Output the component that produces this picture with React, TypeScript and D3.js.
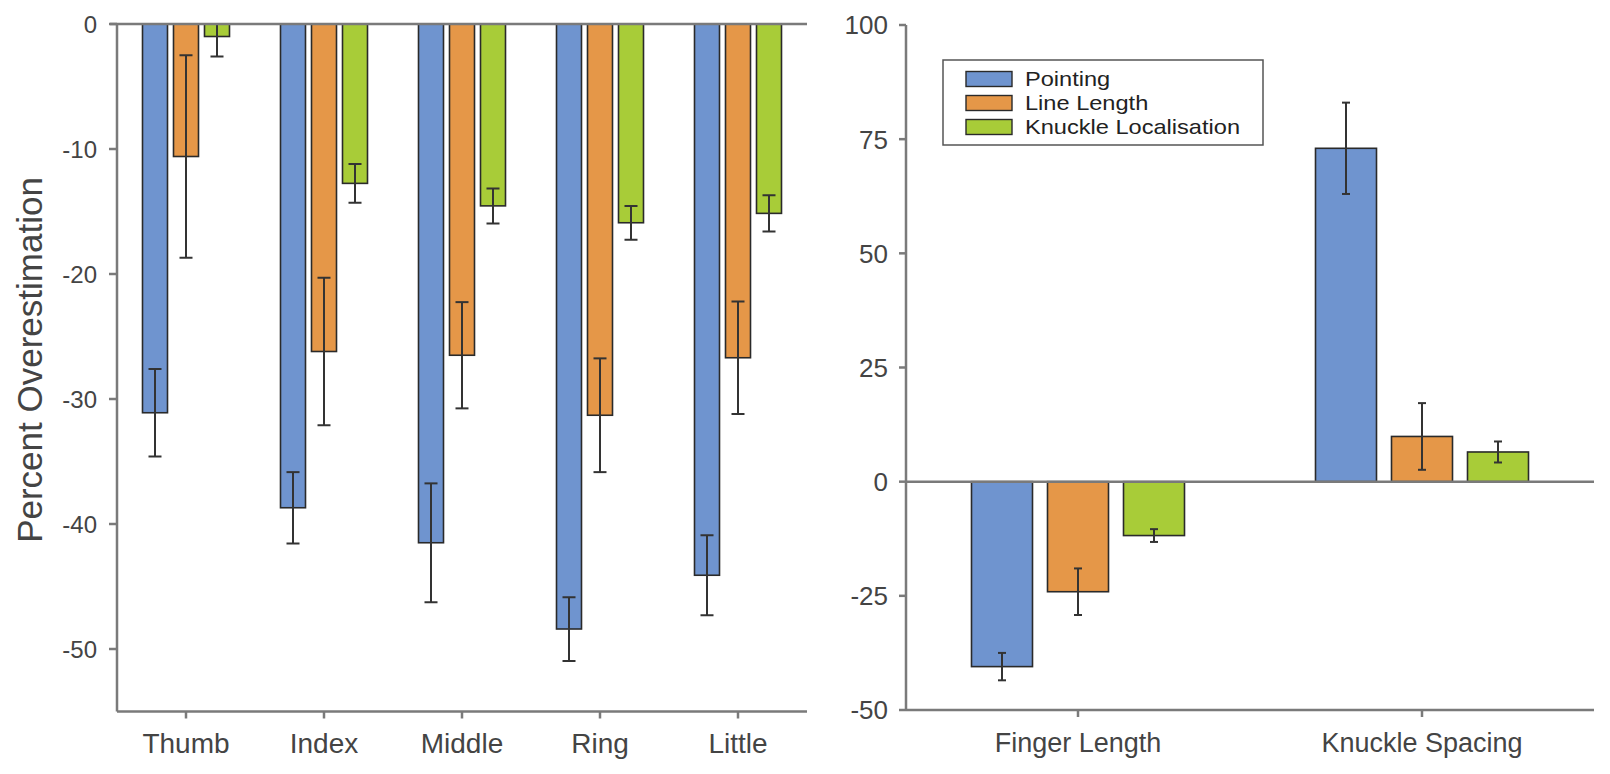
import * as d3 from "d3";

// left panel: per-finger estimates
const fingers = ["Thumb", "Index", "Middle", "Ring", "Little"];
const series = ["Pointing", "Line Length", "Knuckle Localisation"];
const colors = ["#6f94cf", "#e59748", "#a8cc38"];

const pointingFinger = [-31.1, -38.7, -41.5, -48.4, -44.1];
const pointingFingerErr = [3.5, 2.85, 4.75, 2.55, 3.2];
const lineFinger = [-10.6, -26.2, -26.5, -31.3, -26.7];
const lineFingerErr = [8.1, 5.9, 4.25, 4.55, 4.5];
const knuckleFinger = [-1.0, -12.75, -14.55, -15.9, -15.15];
const knuckleFingerErr = [1.6, 1.55, 1.4, 1.35, 1.45];

const leftTicks = [0, -10, -20, -30, -40, -50];

// right panel: summary measures
const measures = ["Finger Length", "Knuckle Spacing"];
const pointingMeasure = [-40.5, 73.0];
const pointingMeasureErr = [3.0, 10.0];
const lineMeasure = [-24.1, 9.9];
const lineMeasureErr = [5.1, 7.3];
const knuckleMeasure = [-11.8, 6.5];
const knuckleMeasureErr = [1.4, 2.3];

const rightTicks = [100, 75, 50, 25, 0, -25, -50];

const FONT = "'Liberation Sans', Arial, Helvetica, sans-serif";
const AXIS = "#7a7a7a";
const TEXT = "#444";

type Bar = { cat: string; s: number; v: number; e: number };

function makeBars(cats: string[], vals: number[][], errs: number[][]): Bar[] {
  const out: Bar[] = [];
  cats.forEach((c, i) => {
    vals.forEach((vs, s) => out.push({ cat: c, s, v: vs[i], e: errs[s][i] }));
  });
  return out;
}

const leftBars = makeBars(
  fingers,
  [pointingFinger, lineFinger, knuckleFinger],
  [pointingFingerErr, lineFingerErr, knuckleFingerErr]
);
const rightBars = makeBars(
  measures,
  [pointingMeasure, lineMeasure, knuckleMeasure],
  [pointingMeasureErr, lineMeasureErr, knuckleMeasureErr]
);

export default function App() {
  // left scales
  const xL = d3.scaleBand<string>().domain(fingers).range([117, 807]);
  const xLi = d3
    .scaleBand<number>()
    .domain([0, 1, 2])
    .range([-43.5, 43.5])
    .paddingInner(6 / 31);
  const yL = d3.scaleLinear().domain([-55, 0]).range([711.5, 24]);

  // right scales
  const xR = d3.scaleBand<string>().domain(measures).range([906, 1594]);
  const xRi = d3
    .scaleBand<number>()
    .domain([0, 1, 2])
    .range([-106.5, 106.5])
    .paddingInner(15 / 76);
  const yR = d3.scaleLinear().domain([-50, 100]).range([710, 25]);

  const renderBars = (
    bars: Bar[],
    x: d3.ScaleBand<string>,
    xi: d3.ScaleBand<number>,
    y: d3.ScaleLinear<number, number>,
    cap: number
  ) =>
    bars.map((b, i) => {
      const x0 = (x(b.cat) as number) + x.bandwidth() / 2 + (xi(b.s) as number);
      const cx = x0 + xi.bandwidth() / 2;
      const y0 = y(0);
      const yv = y(b.v);
      const yt = y(b.v + b.e);
      const yb = y(b.v - b.e);
      return (
        <g key={i}>
          <rect
            x={x0}
            y={Math.min(y0, yv)}
            width={xi.bandwidth()}
            height={Math.abs(yv - y0)}
            fill={colors[b.s]}
            stroke="#2a2a2a"
            strokeWidth={1.6}
          />
          <g stroke="#333" strokeWidth={2}>
            <line x1={cx} x2={cx} y1={yt} y2={yb} />
            <line x1={cx - cap / 2} x2={cx + cap / 2} y1={yt} y2={yt} />
            <line x1={cx - cap / 2} x2={cx + cap / 2} y1={yb} y2={yb} />
          </g>
        </g>
      );
    });

  return (
    <svg
      width={1610}
      height={774}
      style={{ position: "absolute", left: 0, top: 0, background: "#fff" }}
      fontFamily={FONT}
    >
      <defs>
        <clipPath id="clipL">
          <rect x={110} y={yL(0)} width={700} height={yL(-55) - yL(0)} />
        </clipPath>
      </defs>

      {/* ---- left panel ---- */}
      <g clipPath="url(#clipL)">{renderBars(leftBars, xL, xLi, yL, 13)}</g>
      <line x1={117} x2={117} y1={yL(0)} y2={yL(-55)} stroke={AXIS} strokeWidth={2.5} />
      <line x1={117} x2={807} y1={yL(-55)} y2={yL(-55)} stroke={AXIS} strokeWidth={2.5} />
      <line x1={110} x2={807} y1={yL(0)} y2={yL(0)} stroke={AXIS} strokeWidth={2.5} />
      {leftTicks.map((t) => (
        <g key={t}>
          <line x1={109} x2={117} y1={yL(t)} y2={yL(t)} stroke={AXIS} strokeWidth={2.5} />
          <text
            x={97}
            y={yL(t)}
            dy="0.36em"
            textAnchor="end"
            fontSize={24}
            fill={TEXT}
          >
            {t}
          </text>
        </g>
      ))}
      {fingers.map((f) => {
        const cx = (xL(f) as number) + xL.bandwidth() / 2;
        return (
          <g key={f}>
            <line x1={cx} x2={cx} y1={yL(-55)} y2={yL(-55) + 7} stroke={AXIS} strokeWidth={2.5} />
            <text x={cx} y={753} textAnchor="middle" fontSize={28} fill={TEXT}>
              {f}
            </text>
          </g>
        );
      })}
      <text
        transform={`translate(42,360) rotate(-90)`}
        textAnchor="middle"
        fontSize={35}
        fill={TEXT}
      >
        Percent Overestimation
      </text>

      {/* ---- right panel ---- */}
      {renderBars(rightBars, xR, xRi, yR, 8)}
      <line x1={906} x2={906} y1={yR(100)} y2={yR(-50)} stroke={AXIS} strokeWidth={2.5} />
      <line x1={906} x2={1594} y1={yR(-50)} y2={yR(-50)} stroke={AXIS} strokeWidth={2.5} />
      <line x1={906} x2={1594} y1={yR(0)} y2={yR(0)} stroke={AXIS} strokeWidth={2.5} />
      {rightTicks.map((t) => (
        <g key={t}>
          <line x1={899} x2={906} y1={yR(t)} y2={yR(t)} stroke={AXIS} strokeWidth={2.5} />
          <text
            x={888}
            y={yR(t)}
            dy="0.36em"
            textAnchor="end"
            fontSize={26}
            fill={TEXT}
          >
            {t}
          </text>
        </g>
      ))}
      {measures.map((m) => {
        const cx = (xR(m) as number) + xR.bandwidth() / 2;
        return (
          <g key={m}>
            <line x1={cx} x2={cx} y1={yR(-50)} y2={yR(-50) + 7} stroke={AXIS} strokeWidth={2.5} />
            <text x={cx} y={752} textAnchor="middle" fontSize={27} fill={TEXT}>
              {m}
            </text>
          </g>
        );
      })}

      {/* legend */}
      <rect x={943} y={60} width={320} height={85} fill="#fff" stroke="#555" strokeWidth={1.5} />
      {series.map((s, i) => (
        <g key={s} transform={`translate(966,${79 + i * 24})`}>
          <rect x={0} y={-7.5} width={46} height={15} fill={colors[i]} stroke="#2a2a2a" strokeWidth={1.4} />
          <text
            transform="translate(59,0) scale(1.18,1)"
            dy="0.36em"
            fontSize={20}
            fill="#222"
          >
            {s}
          </text>
        </g>
      ))}
    </svg>
  );
}
